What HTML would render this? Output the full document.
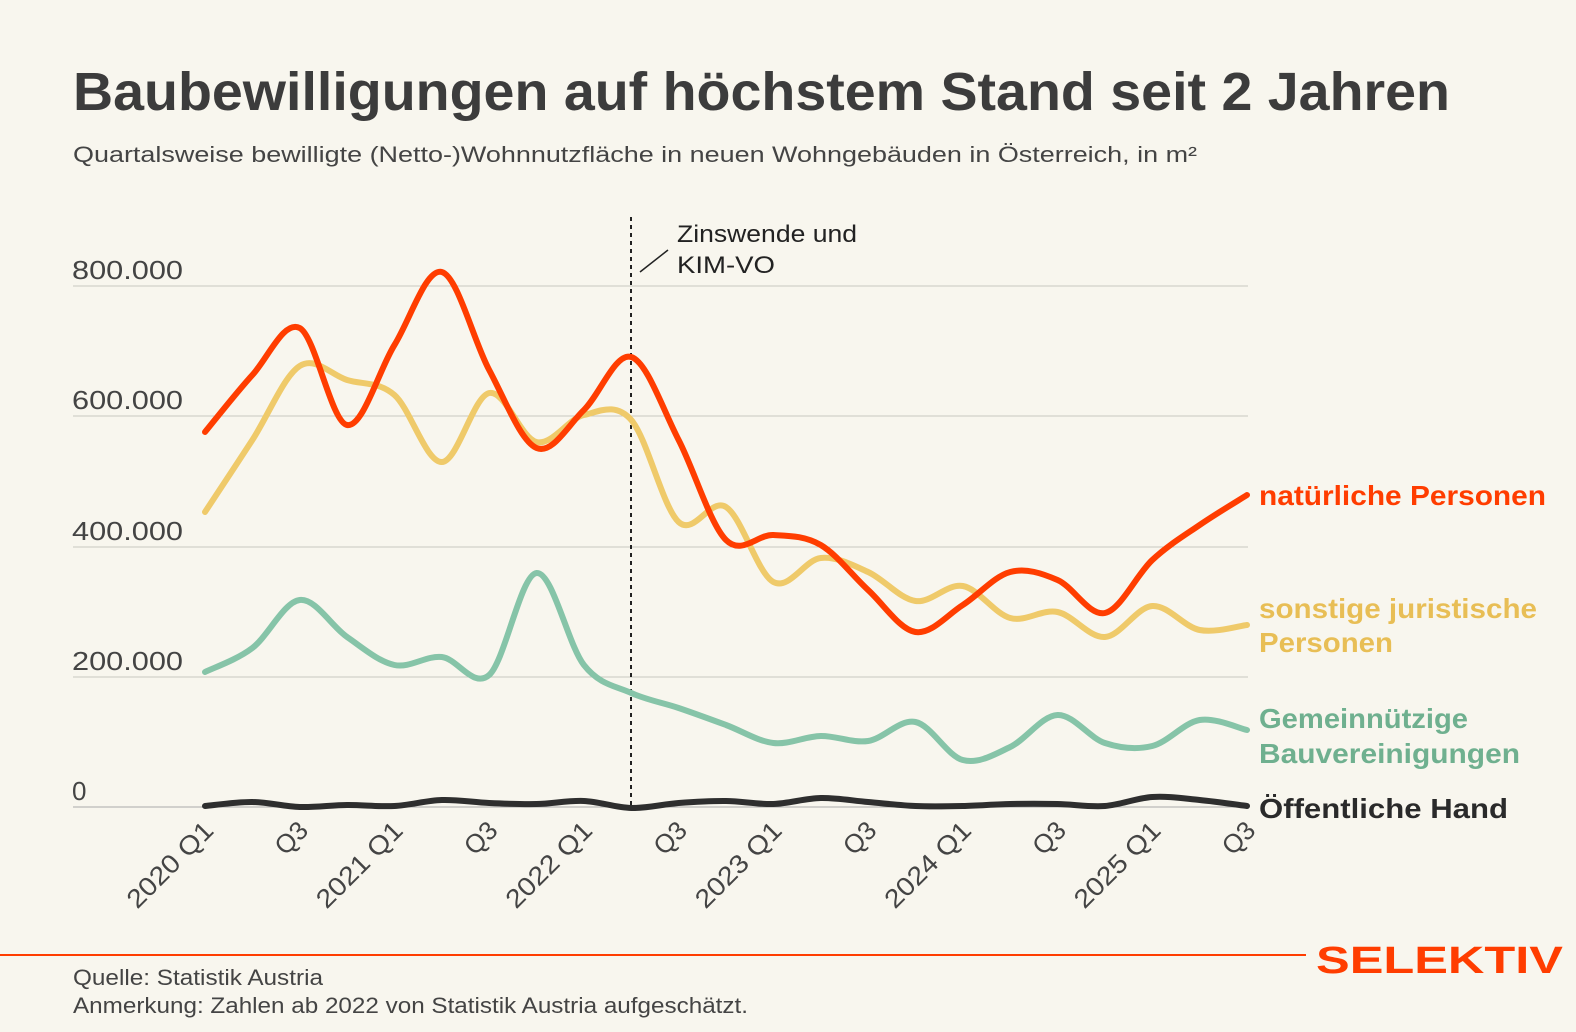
<!DOCTYPE html>
<html><head><meta charset="utf-8"><style>
html,body{margin:0;padding:0;background:#f8f6ee}
svg{display:block}
text{font-family:"Liberation Sans",sans-serif}
</style></head><body>
<svg id="s" width="1576" height="1032" viewBox="0 0 1576 1032" xmlns="http://www.w3.org/2000/svg">
<rect width="1576" height="1032" fill="#f8f6ee"/>
<text x="73" y="110" font-size="54" font-weight="bold" fill="#3c3c3c" textLength="1377" lengthAdjust="spacingAndGlyphs">Baubewilligungen auf höchstem Stand seit 2 Jahren</text>
<text x="73" y="162" font-size="22" fill="#444" textLength="1124" lengthAdjust="spacingAndGlyphs">Quartalsweise bewilligte (Netto-)Wohnnutzfläche in neuen Wohngebäuden in Österreich, in m²</text>
<g stroke="#c8c8c0" stroke-width="1">
<line x1="73" y1="286" x2="1248" y2="286"/><line x1="73" y1="416" x2="1248" y2="416"/>
<line x1="73" y1="547" x2="1248" y2="547"/><line x1="73" y1="677" x2="1248" y2="677"/>
<line x1="73" y1="807" x2="1248" y2="807" stroke="#aaa"/>
</g>
<g font-size="26" fill="#444">
<text x="72" y="279" textLength="111" lengthAdjust="spacingAndGlyphs">800.000</text><text x="72" y="409" textLength="111" lengthAdjust="spacingAndGlyphs">600.000</text>
<text x="72" y="540" textLength="111" lengthAdjust="spacingAndGlyphs">400.000</text><text x="72" y="670" textLength="111" lengthAdjust="spacingAndGlyphs">200.000</text><text x="72" y="800">0</text>
</g>
<line x1="631" y1="217" x2="631" y2="807" stroke="#222" stroke-width="2" stroke-dasharray="4,4"/>
<line x1="640" y1="272" x2="668" y2="250" stroke="#222" stroke-width="1.5"/>
<text x="677" y="242" font-size="24" fill="#222" textLength="180" lengthAdjust="spacingAndGlyphs">Zinswende und</text>
<text x="677" y="273" font-size="24" fill="#222" textLength="98" lengthAdjust="spacingAndGlyphs">KIM-VO</text>
<g fill="none" stroke-width="6" stroke-linecap="round" stroke-linejoin="round">
<path id="pg" stroke="#86c4a8"/>
<path id="py" stroke="#efca6a"/>
<path id="pr" stroke="#ff3d00"/>
<path id="pb" stroke="#2e2e2e"/>
</g>
<g id="xl" font-size="26" fill="#444"></g>
<g font-size="28" font-weight="bold">
<text x="1259" y="505" fill="#ff3d00" textLength="287" lengthAdjust="spacingAndGlyphs">natürliche Personen</text>
<text x="1259" y="618" fill="#e8be55" textLength="278" lengthAdjust="spacingAndGlyphs">sonstige juristische</text>
<text x="1259" y="652" fill="#e8be55" textLength="134" lengthAdjust="spacingAndGlyphs">Personen</text>
<text x="1259" y="728" fill="#6fb08f" textLength="209" lengthAdjust="spacingAndGlyphs">Gemeinnützige</text>
<text x="1259" y="763" fill="#6fb08f" textLength="261" lengthAdjust="spacingAndGlyphs">Bauvereinigungen</text>
<text x="1259" y="818" fill="#2a2a2a" textLength="249" lengthAdjust="spacingAndGlyphs">Öffentliche Hand</text>
</g>
<line x1="0" y1="955" x2="1306" y2="955" stroke="#ff3d00" stroke-width="2"/>
<text x="1316" y="973" font-size="38" font-weight="bold" fill="#ff3d00" textLength="247" lengthAdjust="spacingAndGlyphs">SELEKTIV</text>
<text x="73" y="985" font-size="22" fill="#444" textLength="250" lengthAdjust="spacingAndGlyphs">Quelle: Statistik Austria</text>
<text x="73" y="1013" font-size="22" fill="#444" textLength="675" lengthAdjust="spacingAndGlyphs">Anmerkung: Zahlen ab 2022 von Statistik Austria aufgeschätzt.</text>
</svg>
<script>
var X=function(i){return 205+47.364*i};
var D={
pr:[432,375,328,425,345,272,370,448,410,357,440,540,535,545,590,632,605,572,580,613,560,525,495],
py:[512,440,366,380,395,462,393,442,415,420,522,507,582,558,572,601,586,618,612,637,606,630,625],
pg:[672,648,600,637,665,657,675,573,665,693,708,725,743,736,741,722,760,747,715,743,746,720,730],
pb:[806,802,807,805,806,800,803,804,801,808,803,801,804,798,802,806,806,804,804,806,797,800,806]};
for(var k in D){var y=D[k],p=[];for(var i=0;i<y.length;i++)p.push([X(i),y[i]]);
var d="M"+p[0][0]+","+p[0][1];
for(var i=0;i<p.length-1;i++){var a=p[i-1]||p[i],b=p[i],c=p[i+1],e=p[i+2]||c;
d+=" C"+(b[0]+(c[0]-a[0])/6)+","+(b[1]+(c[1]-a[1])/6)+" "+(c[0]-(e[0]-b[0])/6)+","+(c[1]-(e[1]-b[1])/6)+" "+c[0]+","+c[1];}
document.getElementById(k).setAttribute("d",d);}
var L=["2020 Q1","Q3","2021 Q1","Q3","2022 Q1","Q3","2023 Q1","Q3","2024 Q1","Q3","2025 Q1","Q3"],g=document.getElementById("xl"),h="";
for(var i=0;i<L.length;i++){var x=X(2*i)+10,yy=832,tl=L[i].length>2?'textLength="110" lengthAdjust="spacingAndGlyphs"':'';h+='<text x="'+x+'" y="'+yy+'" text-anchor="end" '+tl+' transform="rotate(-45 '+x+' '+yy+')">'+L[i]+'</text>';}
g.innerHTML=h;
</script>
</body></html>
